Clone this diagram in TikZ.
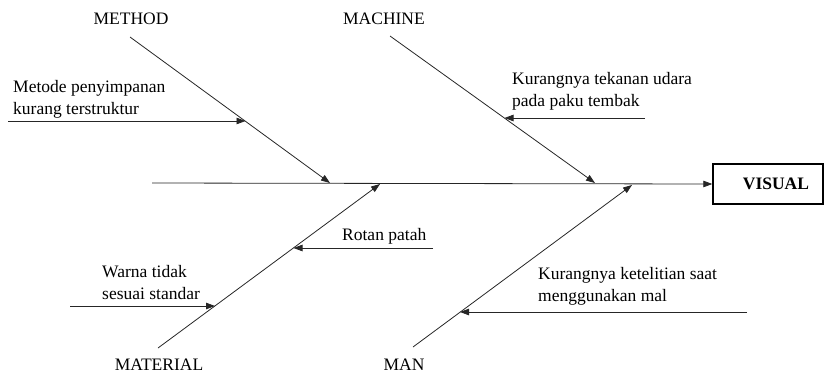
\documentclass[tikz,border=0pt]{standalone}
\usepackage{fontspec}
\setmainfont{Liberation Serif}
\usetikzlibrary{arrows.meta}
\begin{document}
\begin{tikzpicture}[x=1pt,y=-1pt,
  cause/.style={draw=black!85,line width=0.8pt,-{Triangle[length=9pt,width=6.5pt]}},
  lbl/.style={font=\rmfamily\fontsize{17.5}{22}\selectfont,inner sep=0pt},
  txt/.style={font=\rmfamily\fontsize{17.5}{22}\selectfont,inner sep=0pt,align=left,anchor=north west},
  effect/.style={draw=black,line width=1.4pt,minimum width=110pt,minimum height=40pt,inner sep=0pt}]
\useasboundingbox (0,0) rectangle (825,376);
% effect box
\node[effect] (box) at (768,184) {};
\node[lbl,font=\rmfamily\fontsize{17.5}{22}\selectfont\bfseries] (visual) at (776,184) {VISUAL};
% spine
\coordinate (s0) at (152,183);
\draw[cause] (s0) -- (box.west);
% category labels
\node[lbl] (method) at (131,18.5) {METHOD};
\node[lbl] (machine) at (384,18.5) {MACHINE};
\node[lbl] (material) at (159,364.5) {MATERIAL};
\node[lbl] (man) at (404,364.5) {MAN};
% bone ends
\coordinate (me0) at (130,37);   \coordinate (me1) at (330,183);
\coordinate (ma0) at (390,36);   \coordinate (ma1) at (595,183);
\coordinate (mt0) at (158,348);  \coordinate (mt1) at (380,184);
\coordinate (mn0) at (413,347);  \coordinate (mn1) at (632,185);
\draw[cause] (me0) -- (me1);
\draw[cause] (ma0) -- (ma1);
\draw[cause] (mt0) -- (mt1);
\draw[cause] (mn0) -- (mn1);
% sub causes
\coordinate (c1a) at (8,121);   \coordinate (c1b) at (245.5,121);
\coordinate (c2a) at (645,118); \coordinate (c2b) at (504.5,118);
\coordinate (c3a) at (433,248); \coordinate (c3b) at (293.5,248);
\coordinate (c4a) at (70,306);  \coordinate (c4b) at (215,306);
\coordinate (c5a) at (747,312); \coordinate (c5b) at (460,312);
\draw[cause] (c1a) -- (c1b);
\draw[cause] (c2a) -- (c2b);
\draw[cause] (c3a) -- (c3b);
\draw[cause] (c4a) -- (c4b);
\draw[cause] (c5a) -- (c5b);
% cause texts
\node[txt] (t1) at (13,80) {Metode penyimpanan\\kurang terstruktur};
\node[txt] (t2) at (512,72) {Kurangnya tekanan udara\\pada paku tembak};
\node[txt] (t3) at (342,228) {Rotan patah};
\node[txt] (t4) at (102,265) {Warna tidak\\sesuai standar};
\node[txt] (t5) at (538,267) {Kurangnya ketelitian saat\\menggunakan mal};
\end{tikzpicture}
\end{document}
